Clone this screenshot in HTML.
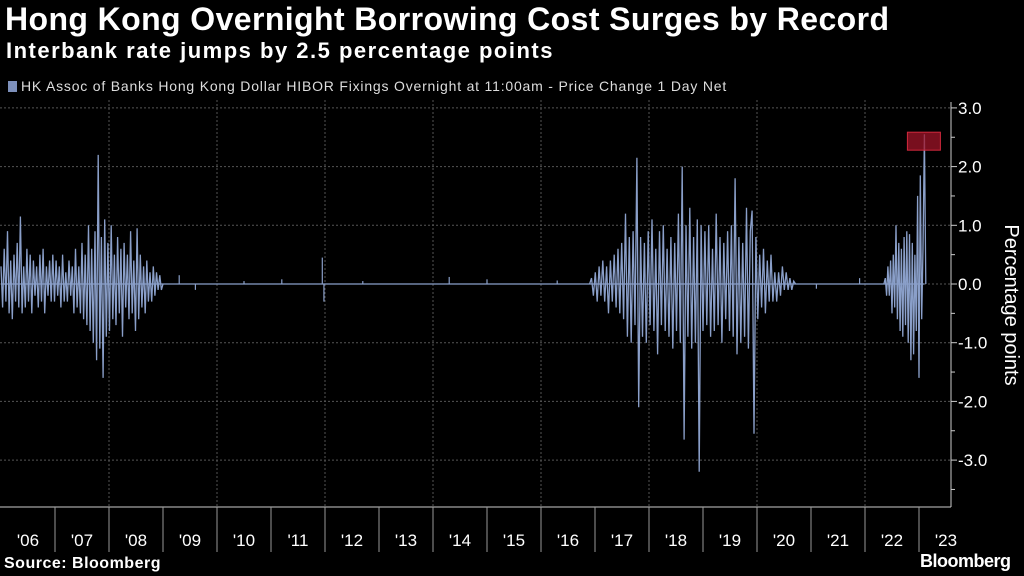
<!DOCTYPE html>
<html><head><meta charset="utf-8">
<style>
body{margin:0;background:#000;width:1024px;height:576px;overflow:hidden;font-family:"Liberation Sans",sans-serif;color:#fff}
#title{position:absolute;left:5px;top:1px;font-size:32px;font-weight:bold;letter-spacing:0.4px;white-space:nowrap}
#sub{position:absolute;left:6px;top:38px;font-size:22px;font-weight:bold;letter-spacing:1.5px;white-space:nowrap}
#legend{position:absolute;left:8px;top:78px;font-size:14px;letter-spacing:0.8px;color:#ddd;white-space:nowrap}
#legend span.sw{display:inline-block;width:9px;height:11px;background:#7d90bb;margin-right:4px;vertical-align:-1px}
#src{position:absolute;left:4px;top:555px;font-size:16px;font-weight:bold;letter-spacing:0.5px}
#logo{position:absolute;left:920px;top:551px;font-size:18px;font-weight:bold;letter-spacing:-0.5px}
svg{position:absolute;left:0;top:0}
</style></head><body>
<div id="title">Hong Kong Overnight Borrowing Cost Surges by Record</div>
<div id="sub">Interbank rate jumps by 2.5 percentage points</div>
<div id="legend"><span class="sw"></span>HK Assoc of Banks Hong Kong Dollar HIBOR Fixings Overnight at 11:00am - Price Change 1 Day Net</div>
<svg id="chart" width="1024" height="576"></svg>
<div id="src">Source: Bloomberg</div>
<div id="logo">Bloomberg</div>
<script>
const yearLabels=["'06","'07","'08","'09","'10","'11","'12","'13","'14","'15","'16","'17","'18","'19","'20","'21","'22","'23"];
const yTicks=[3,2,1,0,-1,-2,-3];
const yTickLabels=["3.0","2.0","1.0","0.0","-1.0","-2.0","-3.0"];
const segStart=[2006,2016.9,2022.35];
const segStep=[0.03,0.035,0.025];
const segA=[0.3,-0.4,0.6,-0.3,0.9,-0.5,0.4,-0.6,0.5,-0.3,0.7,-0.4,1.15,-0.5,0.3,-0.4,0.6,-0.3,0.5,-0.5,0.4,-0.2,0.3,-0.4,0.5,-0.3,0.6,-0.5,0.3,-0.2,0.4,-0.3,0.5,
-0.3,0.4,-0.2,0.3,-0.4,0.5,-0.3,0.2,-0.3,0.4,-0.2,0.3,-0.5,0.6,-0.4,0.3,-0.5,0.7,-0.6,0.5,-0.7,1.0,-0.8,0.6,-1.0,0.9,-1.3,2.2,-1.1,0.8,-1.6,1.1,-0.9,
0.7,-0.8,1.0,-0.6,0.5,-0.7,0.8,-0.5,0.6,-0.9,0.7,-0.4,0.5,-0.6,0.9,-0.5,0.4,-0.8,0.95,-0.6,0.5,-0.4,0.3,-0.5,0.4,-0.3,0.2,-0.3,0.3,-0.2,0.2,-0.1,0.15,-0.1,0];
const segB=[0,0.1,-0.2,0.2,-0.3,0.3,-0.2,0.4,-0.3,0.3,-0.5,0.4,-0.3,0.5,-0.4,0.6,-0.5,0.7,
-0.6,1.2,-0.9,0.8,-1.0,0.9,-0.7,2.15,-2.1,0.8,-0.9,0.7,-1.0,0.9,
-0.7,1.1,-0.8,0.6,-1.2,0.9,-0.7,1.0,-0.8,0.6,-0.9,0.8,-1.1,0.7,
-0.8,1.2,-1.0,2.0,-2.65,1.0,-0.9,1.3,-1.1,0.8,-1.0,1.1,-3.2,1.0,
-0.8,0.9,-0.7,1.0,-0.9,0.6,-0.8,1.2,-0.7,0.8,-1.0,0.7,-0.6,0.9,
-0.8,1.0,-0.9,1.8,-1.2,0.8,-1.0,0.7,-0.9,1.3,-1.1,0.9,1.25,-2.55,
0.8,-0.6,0.5,-0.4,0.6,-0.5,0.4,-0.3,0.5,-0.3,0.2,-0.3,0.2,-0.2,
0.3,-0.1,0.2,-0.1,0.1,-0.1,0.05,0];
const segC=[0,0.1,-0.2,0.3,-0.2,0.4,-0.5,0.5,-0.4,1.0,-0.6,0.7,-0.8,0.6,-0.9,0.8,-0.7,0.9,-1.0,0.85,-1.3,0.7,-1.2,0.5,-0.8,1.5,-1.6,1.85,-0.6,0.6,2.55,0];
const blipDates=[2009.3,2009.6,2010.5,2011.2,2011.95,2011.98,2012.7,2014.3,2015.0,2016.3,2021.1,2021.9];
const blipValues=[0.15,-0.1,0.05,0.08,0.45,-0.3,0.05,0.12,0.08,0.06,-0.08,0.1];
const highlightValue=2.45;

const NS="http://www.w3.org/2000/svg";
const svg=document.getElementById('chart');
const X=t=>1+54*(t-2006);
const Y=v=>284-58.7*v;
function mk(tag,attrs,parent){const e=document.createElementNS(NS,tag);for(const k in attrs)e.setAttribute(k,attrs[k]);(parent||svg).appendChild(e);return e;}
yTicks.forEach((v,i)=>{
  const g=mk('line',{x1:0,x2:951,y1:Y(v),y2:Y(v),stroke:'#555','stroke-dasharray':'2,2'});
  
  
  const t=mk('text',{x:958,y:Y(v)+6,fill:'#fff','font-size':17,'font-family':'Liberation Sans, sans-serif'});
  t.textContent=yTickLabels[i];
  
  
  mk('line',{x1:951,x2:957,y1:Y(v),y2:Y(v),stroke:'#ccc'});
  if(v<3) mk('line',{x1:951,x2:955,y1:Y(v+0.5),y2:Y(v+0.5),stroke:'#ccc'});
});
mk('line',{x1:951,x2:955,y1:Y(-3.5),y2:Y(-3.5),stroke:'#ccc'});
for(let yr=2008;yr<=2022;yr+=2){
  const g=mk('line',{x1:X(yr),x2:X(yr),y1:100,y2:507,stroke:'#555','stroke-dasharray':'2,2'});
  
  
}
const ya=mk('line',{x1:951,x2:951,y1:102,y2:507,stroke:'#ccc'});


const xa=mk('line',{x1:0,x2:951,y1:507,y2:507,stroke:'#ccc'});


yearLabels.forEach((lab,i)=>{
  const yr=2006+i;
  if(i>0)mk('line',{x1:X(yr),x2:X(yr),y1:507,y2:552,stroke:'#999'});
  const t=mk('text',{x:X(yr)+27,y:546,fill:'#fff','font-size':17,'text-anchor':'middle','font-family':'Liberation Sans, sans-serif'});
  t.textContent=lab;
  
  
});
const yt=mk('text',{x:0,y:0,fill:'#fff','font-size':20,'text-anchor':'middle',transform:'translate(1005,305) rotate(90)','font-family':'Liberation Sans, sans-serif'});
yt.textContent='Percentage points';


const bl=mk('line',{x1:X(2006),x2:X(2023.1),y1:Y(0),y2:Y(0),stroke:'#8a9fc9','stroke-width':1.2});


blipDates.forEach((d,i)=>{
  const b=mk('line',{x1:X(d),x2:X(d),y1:Y(0),y2:Y(blipValues[i]),stroke:'#8a9fc9','stroke-width':1.2});
  
  
});
[segA,segB,segC].forEach((vals,s)=>{
  const pts=vals.map((v,i)=>X(segStart[s]+segStep[s]*i).toFixed(1)+','+Y(v).toFixed(1)).join(' ');
  const p=mk('polyline',{points:pts,fill:'none',stroke:'#8a9fc9','stroke-width':1.3});
  
  
});
const hx=X(segStart[2]+segStep[2]*(segC.length-2));
const hb=mk('rect',{x:hx-17,y:Y(highlightValue)-8,width:33,height:18,fill:'rgba(160,20,40,0.75)',stroke:'#d0283c','stroke-width':1});


</script>
</body></html>
